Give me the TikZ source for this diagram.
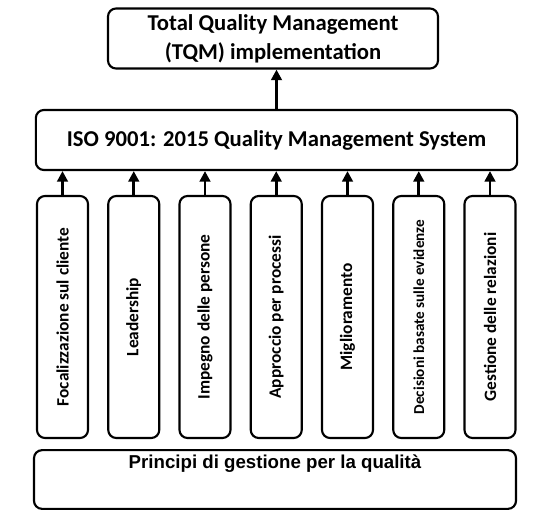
\documentclass[tikz,border=0pt]{standalone}
\usepackage{fontspec}
\setmainfont{Carlito}
\newfontfamily\arialfont{Liberation Sans}
\usetikzlibrary{arrows.meta}

\begin{document}
\begin{tikzpicture}[x=0.75pt, y=-0.75pt, line width=1.6pt,
    >={Triangle[length=8pt,width=8pt]},
    box/.style={draw, rounded corners=6pt, inner sep=0pt, align=center,
      font=\fontsize{17}{21.5}\selectfont\bfseries},
    pillar/.style={box, rotate=90, minimum width=181.5pt, minimum height=38.25pt,
      font=\fontsize{#1}{16}\selectfont\bfseries},
    link/.style={->, line width=2.2pt}]
    \useasboundingbox (0,0) rectangle (556,529);

    % Top levels
    \node[box, minimum width=247.5pt, minimum height=45pt] (tqm) at (273,38.5)
      {Total Quality Management\\(TQM) implementation};
    \node[box, minimum width=361pt, minimum height=45pt] (iso) at (276.5,140)
      {ISO 9001: 2015 Quality Management System};

    % The seven principles
    \foreach \name/\fs/\txt [count=\i from 0] in {p1/13/Focalizzazione sul cliente,
        p2/13/Leadership, p3/13/Impegno delle persone, p4/13/Approccio per processi,
        p5/13/Miglioramento, p6/11.4/Decisioni basate sulle evidenze,
        p7/13/Gestione delle relazioni}
      \node[pillar=\fs] (\name) at (62.5+71.25*\i,317) {\txt};

    % Base
    \node[box, minimum width=361.5pt, minimum height=44pt, text height=10pt,
      text depth=25.8pt, font=\arialfont\fontsize{14}{16}\selectfont\bfseries]
      (base) at (275,479.5) {Principi di gestione per la qualità};

    % Arrows
    \foreach \name in {p1,p2,p3,p4,p5,p6,p7}
      \draw[link] (\name.east) -- (\name.east |- iso.south);
    \draw[link] (iso.north) -- (iso.north |- tqm.south);
\end{tikzpicture}
\end{document}
